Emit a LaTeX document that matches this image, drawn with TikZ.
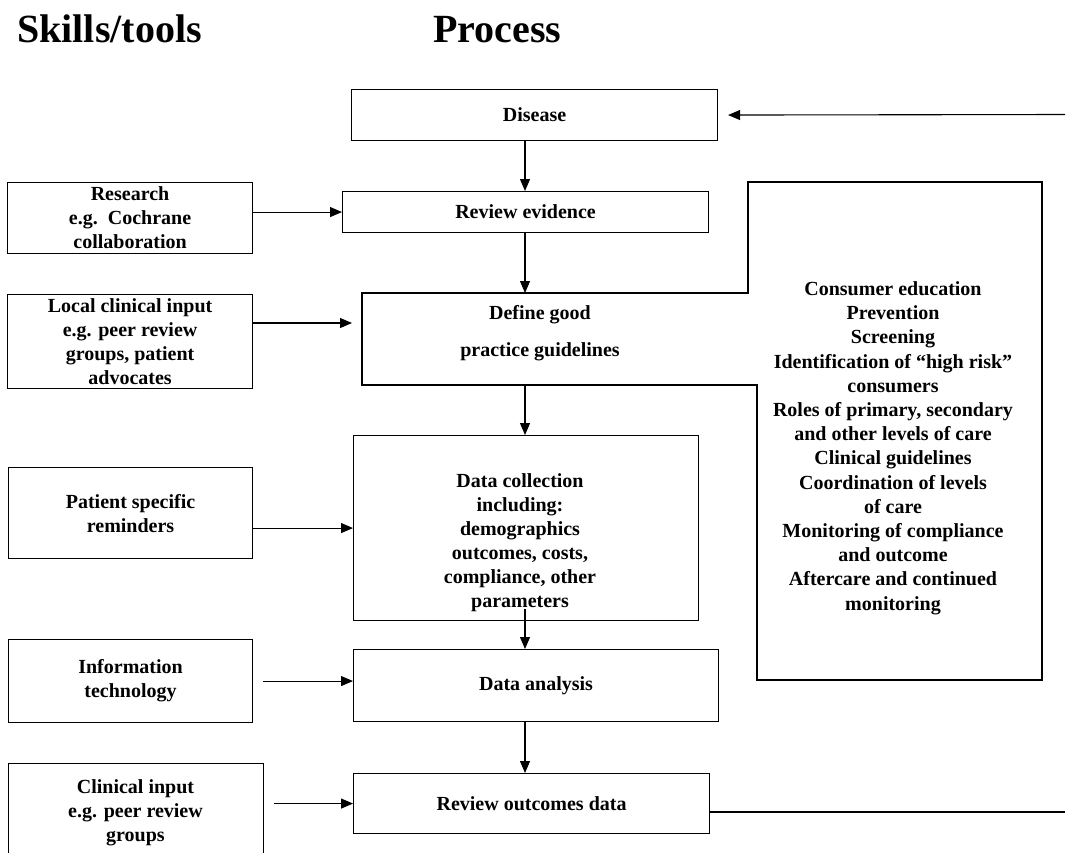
\documentclass[tikz,border=0pt]{standalone}
\usepackage{fontspec}
\setmainfont{Liberation Serif}
\usetikzlibrary{arrows.meta,calc}
\begin{document}
\begin{tikzpicture}[x=1pt,y=-1pt,
  box/.style={draw, line width=1.1pt, inner sep=0pt, anchor=north west, align=center,
    font=\bfseries\fontsize{20}{24}\selectfont},
  txt/.style={inner sep=0pt, align=center, font=\bfseries\fontsize{20}{24}\selectfont},
  title/.style={inner sep=0pt, anchor=base west, font=\bfseries\fontsize{40}{48}\selectfont},
  arr/.style={line width=1.1pt, -{Triangle[length=12pt,width=10pt]}},
  ln/.style={line width=1.1pt}]
\useasboundingbox (0,0) rectangle (1073,852);
\fill[white] (0,0) rectangle (1073,852);
\clip (0,0) rectangle (1073,852);

% titles
\node[title] (tskills) at (17,42) {Skills/tools};
\node[title] (tprocess) at (433,42) {Process};

% left column
\node[box, minimum width=245pt, minimum height=71pt] (research) at (7,182)
  {Research\\e.g.\ \ Cochrane\\collaboration};
\node[box, minimum width=245pt, minimum height=94pt] (local) at (7,294)
  {Local clinical input\\e.g. peer review\\groups, patient\\advocates};
\node[box, minimum width=244pt, minimum height=91pt] (patient) at (8,467)
  {Patient specific\\reminders};
\node[box, minimum width=244pt, minimum height=83pt] (it) at (8,639)
  {Information\\technology};
\node[box, minimum width=255pt, minimum height=100pt] (clin) at (8,763) {};
\node[txt, anchor=north] (clintxt) at (135.5,779) {Clinical input\\e.g. peer review\\groups};

% process column
\node[box, minimum width=366pt, minimum height=51pt] (disease) at (351,89) {Disease};
\node[box, minimum width=366pt, minimum height=41pt] (review) at (342,191) {Review evidence};
\node[box, minimum width=345pt, minimum height=185pt] (datacol) at (353,435) {};
\node[txt] (datacoltxt) at (520,543)
  {Data collection\\including:\\demographics\\outcomes, costs,\\compliance, other\\parameters};
\node[box, minimum width=365pt, minimum height=72pt] (da) at (353,649) {Data analysis};
\node[box, minimum width=356pt, minimum height=60pt] (ro) at (353,773) {Review outcomes data};

% define good practice + right box (merged outline)
\coordinate (defNW) at (362,293);
\coordinate (defSE) at (757,385);
\coordinate (rbNW) at (748,182);
\coordinate (rbSE) at (1042,680);
\draw[ln] (rbNW) -- (rbNW -| rbSE) -- (rbSE) -- (rbSE -| defSE) -- (defSE)
  -- (defSE -| defNW) -- (defNW) -- (defNW -| rbNW) -- cycle;
\node[txt] (definetxt) at (540,333) {Define good\\[13pt]practice guidelines};
\node[txt, font=\bfseries\fontsize{20}{24.2}\selectfont] (rbtxt) at (893,448)
  {Consumer education\\Prevention\\Screening\\Identification of “high risk”\\consumers\\
   Roles of primary, secondary\\and other levels of care\\Clinical guidelines\\
   Coordination of levels\\of care\\Monitoring of compliance\\and outcome\\
   Aftercare and continued\\monitoring};

% column of vertical arrows
\coordinate (col) at (525,0);
\draw[arr] (disease.south -| col) -- (review.north -| col);
\draw[arr] (review.south -| col) -- (defNW -| col);
\draw[arr] (defSE -| col) -- (datacol.north -| col);
\draw[arr] ([yshift=12pt]datacol.south -| col) -- (da.north -| col);
\draw[arr] (da.south -| col) -- (ro.north -| col);

% horizontal arrows from skills to process
\draw[arr] (research.east |- review.west) -- (review.west);
\draw[arr, shorten >=10pt] (local.east |- 0,323) -- (defNW |- 0,323);
\draw[arr] (patient.east |- datacol.west) -- (datacol.west);
\draw[arr, shorten <=10pt] (it.east) -- (da.west |- it.east);
\draw[arr, shorten <=10pt] (clin.east |- ro.west) -- (ro.west);

% feedback line
\coordinate (inR) at (1065,114.5);
\coordinate (outR) at (1065,812);
\draw[arr, shorten >=10pt] (inR) -- (disease.east);
\draw[ln] (ro.east |- outR) -- (outR);
\end{tikzpicture}
\end{document}
